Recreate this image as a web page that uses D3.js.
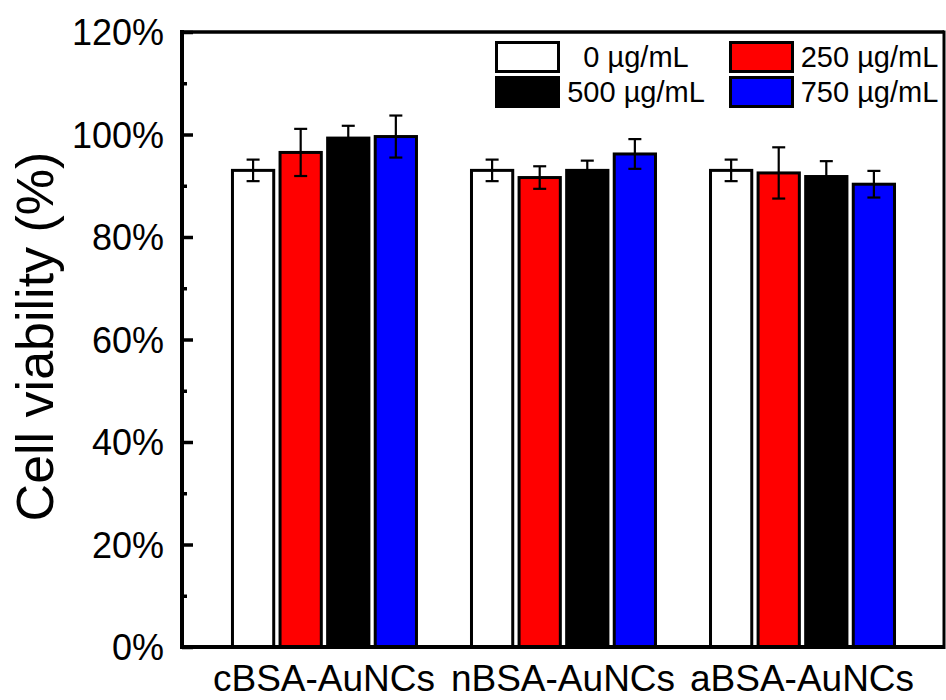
<!DOCTYPE html>
<html>
<head>
<meta charset="utf-8">
<script src="https://cdn.jsdelivr.net/npm/d3@7"></script>
<style>
  html, body { margin: 0; padding: 0; background: #fff; }
  svg { display: block; font-family: "Liberation Sans", Arial, sans-serif; }
</style>
</head>
<body>
<svg id="chart" width="946" height="700"></svg>
<script>
// ---- data ----
const categories = ["cBSA-AuNCs", "nBSA-AuNCs", "aBSA-AuNCs"];
const seriesNames = ["0 µg/mL", "250 µg/mL", "500 µg/mL", "750 µg/mL"];
const seriesColors = ["#ffffff", "#ff0000", "#000000", "#0000ff"];
const values0   = [93.0, 93.0, 93.0];
const values250 = [96.5, 91.6, 92.5];
const values500 = [99.3, 93.0, 91.8];
const values750 = [99.6, 96.2, 90.3];
const err0   = [2.1, 2.1, 2.1];
const err250 = [4.6, 2.2, 5.0];
const err500 = [2.4, 1.9, 3.0];
const err750 = [4.1, 2.9, 2.6];
const yTicks = [0, 20, 40, 60, 80, 100, 120];
const yMinorTicks = [10, 30, 50, 70, 90, 110];

const seriesValues = [values0, values250, values500, values750];
const seriesErrors = [err0, err250, err500, err750];

(function () {
// ---- layout ----
const svg = d3.select("#chart");
const pL = 182, pR = 944, pT = 32, pB = 647;

const y = d3.scaleLinear().domain([0, 120]).range([pB, pT]);
const x = d3.scaleBand().domain(categories).range([pL, pR])
  .paddingInner(0).paddingOuter(0.094);
const xs = d3.scaleBand().domain(seriesNames).range([26.5, 213.5]).paddingInner(0.07);

const rows = [];
categories.forEach((c, ci) => {
  seriesNames.forEach((s, si) => {
    rows.push({cat: c, ser: s, si: si, v: seriesValues[si][ci], e: seriesErrors[si][ci]});
  });
});

// bars
const sw = 3;
svg.append("g").selectAll("rect").data(rows).join("rect")
  .attr("x", d => x(d.cat) + xs(d.ser) + sw / 2)
  .attr("width", xs.bandwidth() - sw)
  .attr("y", d => y(d.v))
  .attr("height", d => y(0) - y(d.v))
  .attr("fill", d => seriesColors[d.si])
  .attr("stroke", "#000")
  .attr("stroke-width", sw);

// error bars
const eg = svg.append("g").attr("stroke", "#000").attr("stroke-width", 2.2).attr("fill", "none");
const cap = 6.5;
rows.forEach(d => {
  const cx = x(d.cat) + xs(d.ser) + xs.bandwidth() / 2;
  const y1 = y(d.v + d.e), y2 = y(d.v - d.e);
  eg.append("line").attr("x1", cx).attr("x2", cx).attr("y1", y1).attr("y2", y2);
  eg.append("line").attr("x1", cx - cap).attr("x2", cx + cap).attr("y1", y1).attr("y2", y1);
  eg.append("line").attr("x1", cx - cap).attr("x2", cx + cap).attr("y1", y2).attr("y2", y2);
});

// y axis (ticks pointing inward)
const yAxis = svg.append("g").attr("transform", `translate(${pL},0)`)
  .call(d3.axisLeft(y).tickValues(yTicks).tickSize(-11).tickPadding(18)
    .tickFormat(d => d + "%"));
yAxis.select(".domain").remove();
yAxis.selectAll(".tick line").attr("stroke", "#000").attr("stroke-width", 3.5);
yAxis.selectAll(".tick text").attr("font-size", 36).attr("fill", "#000")
  .attr("font-family", "'Liberation Sans', Arial, sans-serif").attr("dy", "0.35em");

const yMinor = svg.append("g").attr("transform", `translate(${pL},0)`)
  .call(d3.axisLeft(y).tickValues(yMinorTicks).tickSize(-5).tickFormat(""));
yMinor.select(".domain").remove();
yMinor.selectAll(".tick line").attr("stroke", "#000").attr("stroke-width", 3.5);

// x axis labels
const xAxis = svg.append("g").attr("transform", `translate(0,${pB})`)
  .call(d3.axisBottom(x).tickSize(0).tickPadding(18));
xAxis.select(".domain").remove();
xAxis.selectAll(".tick text").attr("font-size", 37).attr("fill", "#000")
  .attr("font-family", "'Liberation Sans', Arial, sans-serif").attr("dy", "0.71em");

// frame
svg.append("line").attr("x1", pL).attr("x2", pL).attr("y1", pT - 2).attr("y2", pB + 2)
  .attr("stroke", "#000").attr("stroke-width", 4);
svg.append("line").attr("x1", pL - 2).attr("x2", pR).attr("y1", pB).attr("y2", pB)
  .attr("stroke", "#000").attr("stroke-width", 4);
svg.append("line").attr("x1", pL - 2).attr("x2", pR).attr("y1", pT).attr("y2", pT)
  .attr("stroke", "#000").attr("stroke-width", 3.5);
svg.append("line").attr("x1", pR).attr("x2", pR).attr("y1", pT - 1.5).attr("y2", pB + 2)
  .attr("stroke", "#000").attr("stroke-width", 3);

// y axis title
svg.append("text")
  .attr("transform", `translate(53,${(pT + pB) / 2 - 3}) rotate(-90)`)
  .attr("text-anchor", "middle")
  .attr("font-size", 52)
  .attr("fill", "#000")
  .text("Cell viability (%)");

// legend
const legBoxX = [496.5, 730.5];
const legTextX = [636, 869.5];
const legRowY = [42.5, 77.5];
const lg = svg.append("g");
seriesNames.forEach((name, i) => {
  const col = i % 2, row = Math.floor(i / 2);
  lg.append("rect")
    .attr("x", legBoxX[col]).attr("y", legRowY[row])
    .attr("width", 62).attr("height", 29)
    .attr("fill", seriesColors[i]).attr("stroke", "#000").attr("stroke-width", 3);
  lg.append("text")
    .attr("x", legTextX[col]).attr("y", legRowY[row] + 14.5)
    .attr("dy", "0.35em")
    .attr("text-anchor", "middle")
    .attr("font-size", 29).attr("fill", "#000")
    .text(name);
});
})();
</script>
</body>
</html>
